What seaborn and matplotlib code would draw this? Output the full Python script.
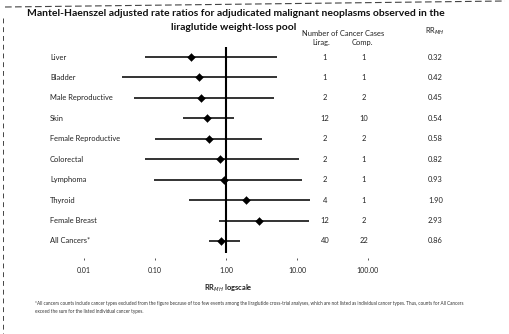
import matplotlib
matplotlib.use("Agg")
import matplotlib.pyplot as plt
import matplotlib.transforms as mtransforms
import seaborn as sns
import pandas as pd

# Cancer categories and Mantel-Haenszel rate ratios with 95% CI
categories = ["Liver", "Bladder", "Male Reproductive", "Skin", "Female Reproductive",
              "Colorectal", "Lymphoma", "Thyroid", "Female Breast", "All Cancers*"]
rr_mh = [0.32, 0.42, 0.45, 0.54, 0.58, 0.82, 0.93, 1.90, 2.93, 0.86]
ci_low = [0.072, 0.034, 0.05, 0.25, 0.10, 0.072, 0.097, 0.30, 0.80, 0.58]
ci_high = [5.2, 5.2, 4.7, 1.3, 3.2, 10.6, 11.7, 15.0, 14.7, 1.57]
cases_lirag = ["1", "1", "2", "12", "2", "2", "2", "4", "12", "40"]
cases_comp = ["1", "1", "2", "10", "2", "1", "1", "1", "2", "22"]
rr_labels = ["0.32", "0.42", "0.45", "0.54", "0.58", "0.82", "0.93", "1.90", "2.93", "0.86"]
x_ticks = [0.01, 0.1, 1, 10, 100]
x_tick_labels = ["0.01", "0.10", "1.00", "10.00", "100.00"]

df = pd.DataFrame({"category": categories, "rr": rr_mh, "lo": ci_low, "hi": ci_high,
                   "row": range(len(categories))})

sns.set_theme(style="white")
plt.rcParams["font.family"] = ["Lato", "DejaVu Sans"]

W, H = 510, 334
fig = plt.figure(figsize=(W / 100, H / 100), dpi=100)
fig.patch.set_facecolor("white")

def fx(px):
    return px / W

def fy(py):
    return 1 - py / H

row0, step = 57.0, 20.44
ax_top, ax_bot = 45.0, 258.0
ax = fig.add_axes([fx(84), fy(ax_bot), fx(368) - fx(84), (ax_bot - ax_top) / H])
ax.set_xscale("log")
ax.set_xlim(0.01, 100)
ax.set_ylim((ax_bot - row0) / step, (ax_top - row0) / step)

# confidence intervals
ax.hlines(df["row"], df["lo"], df["hi"], color="#111111", lw=1.2, zorder=2)
# reference line at RR = 1
ax.vlines(1, -0.5, 9.6, color="#000000", lw=1.5, zorder=3)
# point estimates
sns.scatterplot(data=df, x="rr", y="row", marker="D", color="#000000", s=16,
                edgecolor="#000000", linewidth=0.3, ax=ax, zorder=4, legend=False)

ax.set_xticks(x_ticks)
ax.set_xticklabels(x_tick_labels)
ax.minorticks_off()
ax.tick_params(axis="x", bottom=True, length=1.5, width=0.7, color="#555555",
               pad=5, labelsize=5, labelcolor="#222222")
ax.set_yticks([])
ax.set_xlabel("")
ax.set_ylabel("")
for s in ax.spines.values():
    s.set_visible(False)
ax.patch.set_alpha(0)

# row labels and table columns
lab_tr = mtransforms.blended_transform_factory(fig.transFigure, ax.transData)
txt = dict(fontsize=5.4, color="#222222", va="center", transform=lab_tr)
for i in range(len(categories)):
    ax.text(fx(50), i, categories[i], ha="left", **txt)
    ax.text(fx(325), i, cases_lirag[i], ha="center", **txt)
    ax.text(fx(364), i, cases_comp[i], ha="center", **txt)
    ax.text(fx(428), i, rr_labels[i], ha="left", **txt)

# title and column headers
fig.text(fx(236), fy(14), "Mantel-Haenszel adjusted rate ratios for adjudicated malignant neoplasms observed in the",
         ha="center", va="center", fontsize=7.5, fontweight="bold", color="#111111")
fig.text(fx(234), fy(27), "liraglutide weight-loss pool",
         ha="center", va="center", fontsize=7.5, fontweight="bold", color="#111111")
fig.text(fx(343), fy(33), "Number of Cancer Cases", ha="center", va="center", fontsize=5.4, color="#222222")
fig.text(fx(321), fy(43), "Lirag.", ha="center", va="center", fontsize=5.4, color="#222222")
fig.text(fx(362), fy(43), "Comp.", ha="center", va="center", fontsize=5.4, color="#222222")
fig.text(fx(435), fy(31), "RR$_{MH}$", ha="center", va="center", fontsize=5.4, color="#222222")
fig.text(fx(228), fy(288), "RR$_{MH}$ logscale", ha="center", va="center", fontsize=5.4,
         fontweight="bold", color="#222222")

# footnote
fig.text(fx(35), fy(304),
         "*All cancers counts include cancer types excluded from the figure because of too few events among the liraglutide "
         "cross-trial analyses, which are not listed as individual cancer types. Thus, counts for All Cancers",
         ha="left", va="center", fontsize=3.3, color="#333333")
fig.text(fx(35), fy(311), "exceed the sum for the listed individual cancer types.",
         ha="left", va="center", fontsize=3.3, color="#333333")

# page edges
fig.add_artist(plt.Line2D([fx(5), fx(505)], [fy(7), fy(1)], transform=fig.transFigure,
                          color="#444444", lw=0.8, ls=(0, (6, 3))))
fig.add_artist(plt.Line2D([fx(3), fx(3)], [fy(18), fy(334)], transform=fig.transFigure,
                          color="#444444", lw=0.7, ls=(0, (5, 4))))

fig.savefig("out.png", dpi=100, facecolor="white")
